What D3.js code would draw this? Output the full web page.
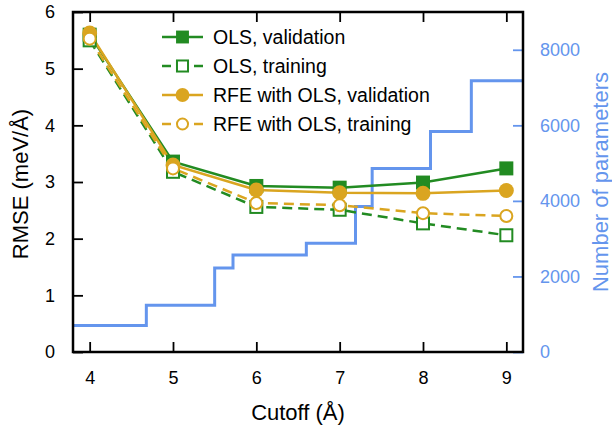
<!DOCTYPE html>
<html><head><meta charset="utf-8">
<script src="https://cdn.jsdelivr.net/npm/d3@7"></script>
<style>
body{margin:0;background:#fff;}
svg{display:block;font-family:"Liberation Sans",Arial,sans-serif;}
</style></head>
<body><svg id="c" width="612" height="429"></svg>
<script>
const cutoffs = [4, 5, 6, 7, 8, 9];
const olsValidation = [5.6, 3.36, 2.93, 2.90, 2.99, 3.24];
const olsTraining   = [5.5, 3.18, 2.56, 2.51, 2.27, 2.06];
const rfeValidation = [5.63, 3.30, 2.86, 2.81, 2.80, 2.85];
const rfeTraining   = [5.53, 3.24, 2.63, 2.59, 2.45, 2.40];
const stepCutoffs = [3.8, 4.68, 5.5, 5.72, 6.6, 7.19, 7.39, 8.09, 8.58, 9.2];
const stepParams  = [700, 1240, 2225, 2570, 2880, 3850, 4860, 5840, 7180, 7180];
const xTicks = [4, 5, 6, 7, 8, 9];
const yTicks = [0, 1, 2, 3, 4, 5, 6];
const y2Ticks = [0, 2000, 4000, 6000, 8000];
const legendLabels = ["OLS, validation", "OLS, training", "RFE with OLS, validation", "RFE with OLS, training"];

const GREEN = "#228B22", GOLD = "#DAA520", BLUE = "#6495ED";
const L = 73, R = 523, T = 12, B = 352;
const svg = d3.select("#c");
const x = d3.scaleLinear().domain([3.8, 9.2]).range([L, R]);
const y = d3.scaleLinear().domain([0, 6]).range([B, T]);
const y2 = d3.scaleLinear().domain([0, 9000]).range([B, T]);

// step line (number of parameters)
const stepPts = stepCutoffs.map((c, i) => [c, stepParams[i]]);
svg.append("path").datum(stepPts)
  .attr("fill", "none").attr("stroke", BLUE).attr("stroke-width", 3)
  .attr("d", d3.line().x(d => x(d[0])).y(d => y2(d[1])).curve(d3.curveStepAfter));

// axes
function styleAxis(g, color){
  g.select(".domain").remove();
  g.selectAll(".tick line").attr("stroke", color).attr("stroke-width", 1.8);
  g.selectAll(".tick text").attr("fill", color).attr("font-size", 18)
    .attr("font-family", "'Liberation Sans', Arial, sans-serif");
}
svg.append("g").attr("transform", `translate(0,${B})`)
  .call(d3.axisBottom(x).tickValues(xTicks).tickSize(-10).tickPadding(19).tickFormat(d3.format("d")))
  .call(g => styleAxis(g, "#000"));
svg.append("g").attr("transform", `translate(0,${T})`)
  .call(d3.axisTop(x).tickValues(xTicks).tickSize(-10).tickFormat(""))
  .call(g => styleAxis(g, "#000"));
svg.append("g").attr("transform", `translate(${L},0)`)
  .call(d3.axisLeft(y).tickValues(yTicks).tickSize(-10).tickPadding(18).tickFormat(d3.format("d")))
  .call(g => styleAxis(g, "#000"));
svg.append("g").attr("transform", `translate(${R},0)`)
  .call(d3.axisRight(y2).tickValues(y2Ticks).tickSize(-10).tickPadding(17).tickFormat(d3.format("d")))
  .call(g => styleAxis(g, BLUE));

// series
const series = [
  {vals: olsValidation, color: GREEN, dash: null, shape: "square", filled: true},
  {vals: olsTraining,   color: GREEN, dash: "10,6", shape: "square", filled: false},
  {vals: rfeValidation, color: GOLD,  dash: null, shape: "circle", filled: true},
  {vals: rfeTraining,   color: GOLD,  dash: "10,6", shape: "circle", filled: false}
];
const line = d3.line().x(d => x(d[0])).y(d => y(d[1]));
function drawMarker(g, cx, cy, s, scale){
  const k = scale || 1;
  if (s.shape === "square") {
    const sz = (s.filled ? 14 : 12) * k;
    g.append("rect").attr("x", cx - sz/2).attr("y", cy - sz/2).attr("width", sz).attr("height", sz)
      .attr("fill", s.filled ? s.color : "#fff").attr("stroke", s.color).attr("stroke-width", s.filled ? 0 : 2);
  } else {
    const r = (s.filled ? 7.5 : 6) * k;
    g.append("circle").attr("cx", cx).attr("cy", cy).attr("r", r)
      .attr("fill", s.filled ? s.color : "#fff").attr("stroke", s.color).attr("stroke-width", s.filled ? 0 : 2);
  }
}
series.forEach(s => {
  const pts = cutoffs.map((c, i) => [c, s.vals[i]]);
  svg.append("path").datum(pts).attr("fill", "none").attr("stroke", s.color)
    .attr("stroke-width", 2.5).attr("stroke-dasharray", s.dash).attr("d", line);
});
series.forEach(s => {
  const g = svg.append("g");
  cutoffs.forEach((c, i) => drawMarker(g, x(c), y(s.vals[i]), s));
});

// frame
svg.append("rect").attr("x", L).attr("y", T).attr("width", R - L).attr("height", B - T)
  .attr("fill", "none").attr("stroke", "#000").attr("stroke-width", 2.5);

// legend
series.forEach((s, i) => {
  const ly = 37 + i * 29;
  const g = svg.append("g");
  g.append("line").attr("x1", 162).attr("x2", 203).attr("y1", ly).attr("y2", ly)
    .attr("stroke", s.color).attr("stroke-width", 2.5).attr("stroke-dasharray", s.dash ? "9,23,9" : null);
  drawMarker(g, 182.5, ly, s, 0.92);
  g.append("text").attr("x", 213).attr("y", ly + 7).attr("font-size", 19.5).attr("fill", "#000")
    .text(legendLabels[i]);
});

// titles
svg.append("text").attr("x", 298).attr("y", 420).attr("text-anchor", "middle")
  .attr("font-size", 22).text("Cutoff (Å)");
svg.append("text").attr("transform", "translate(28,184) rotate(-90)").attr("text-anchor", "middle")
  .attr("font-size", 22).text("RMSE (meV/Å)");
svg.append("text").attr("transform", "translate(608,182) rotate(-90)").attr("text-anchor", "middle")
  .attr("font-size", 22).attr("fill", BLUE).text("Number of parameters");
</script></body></html>
